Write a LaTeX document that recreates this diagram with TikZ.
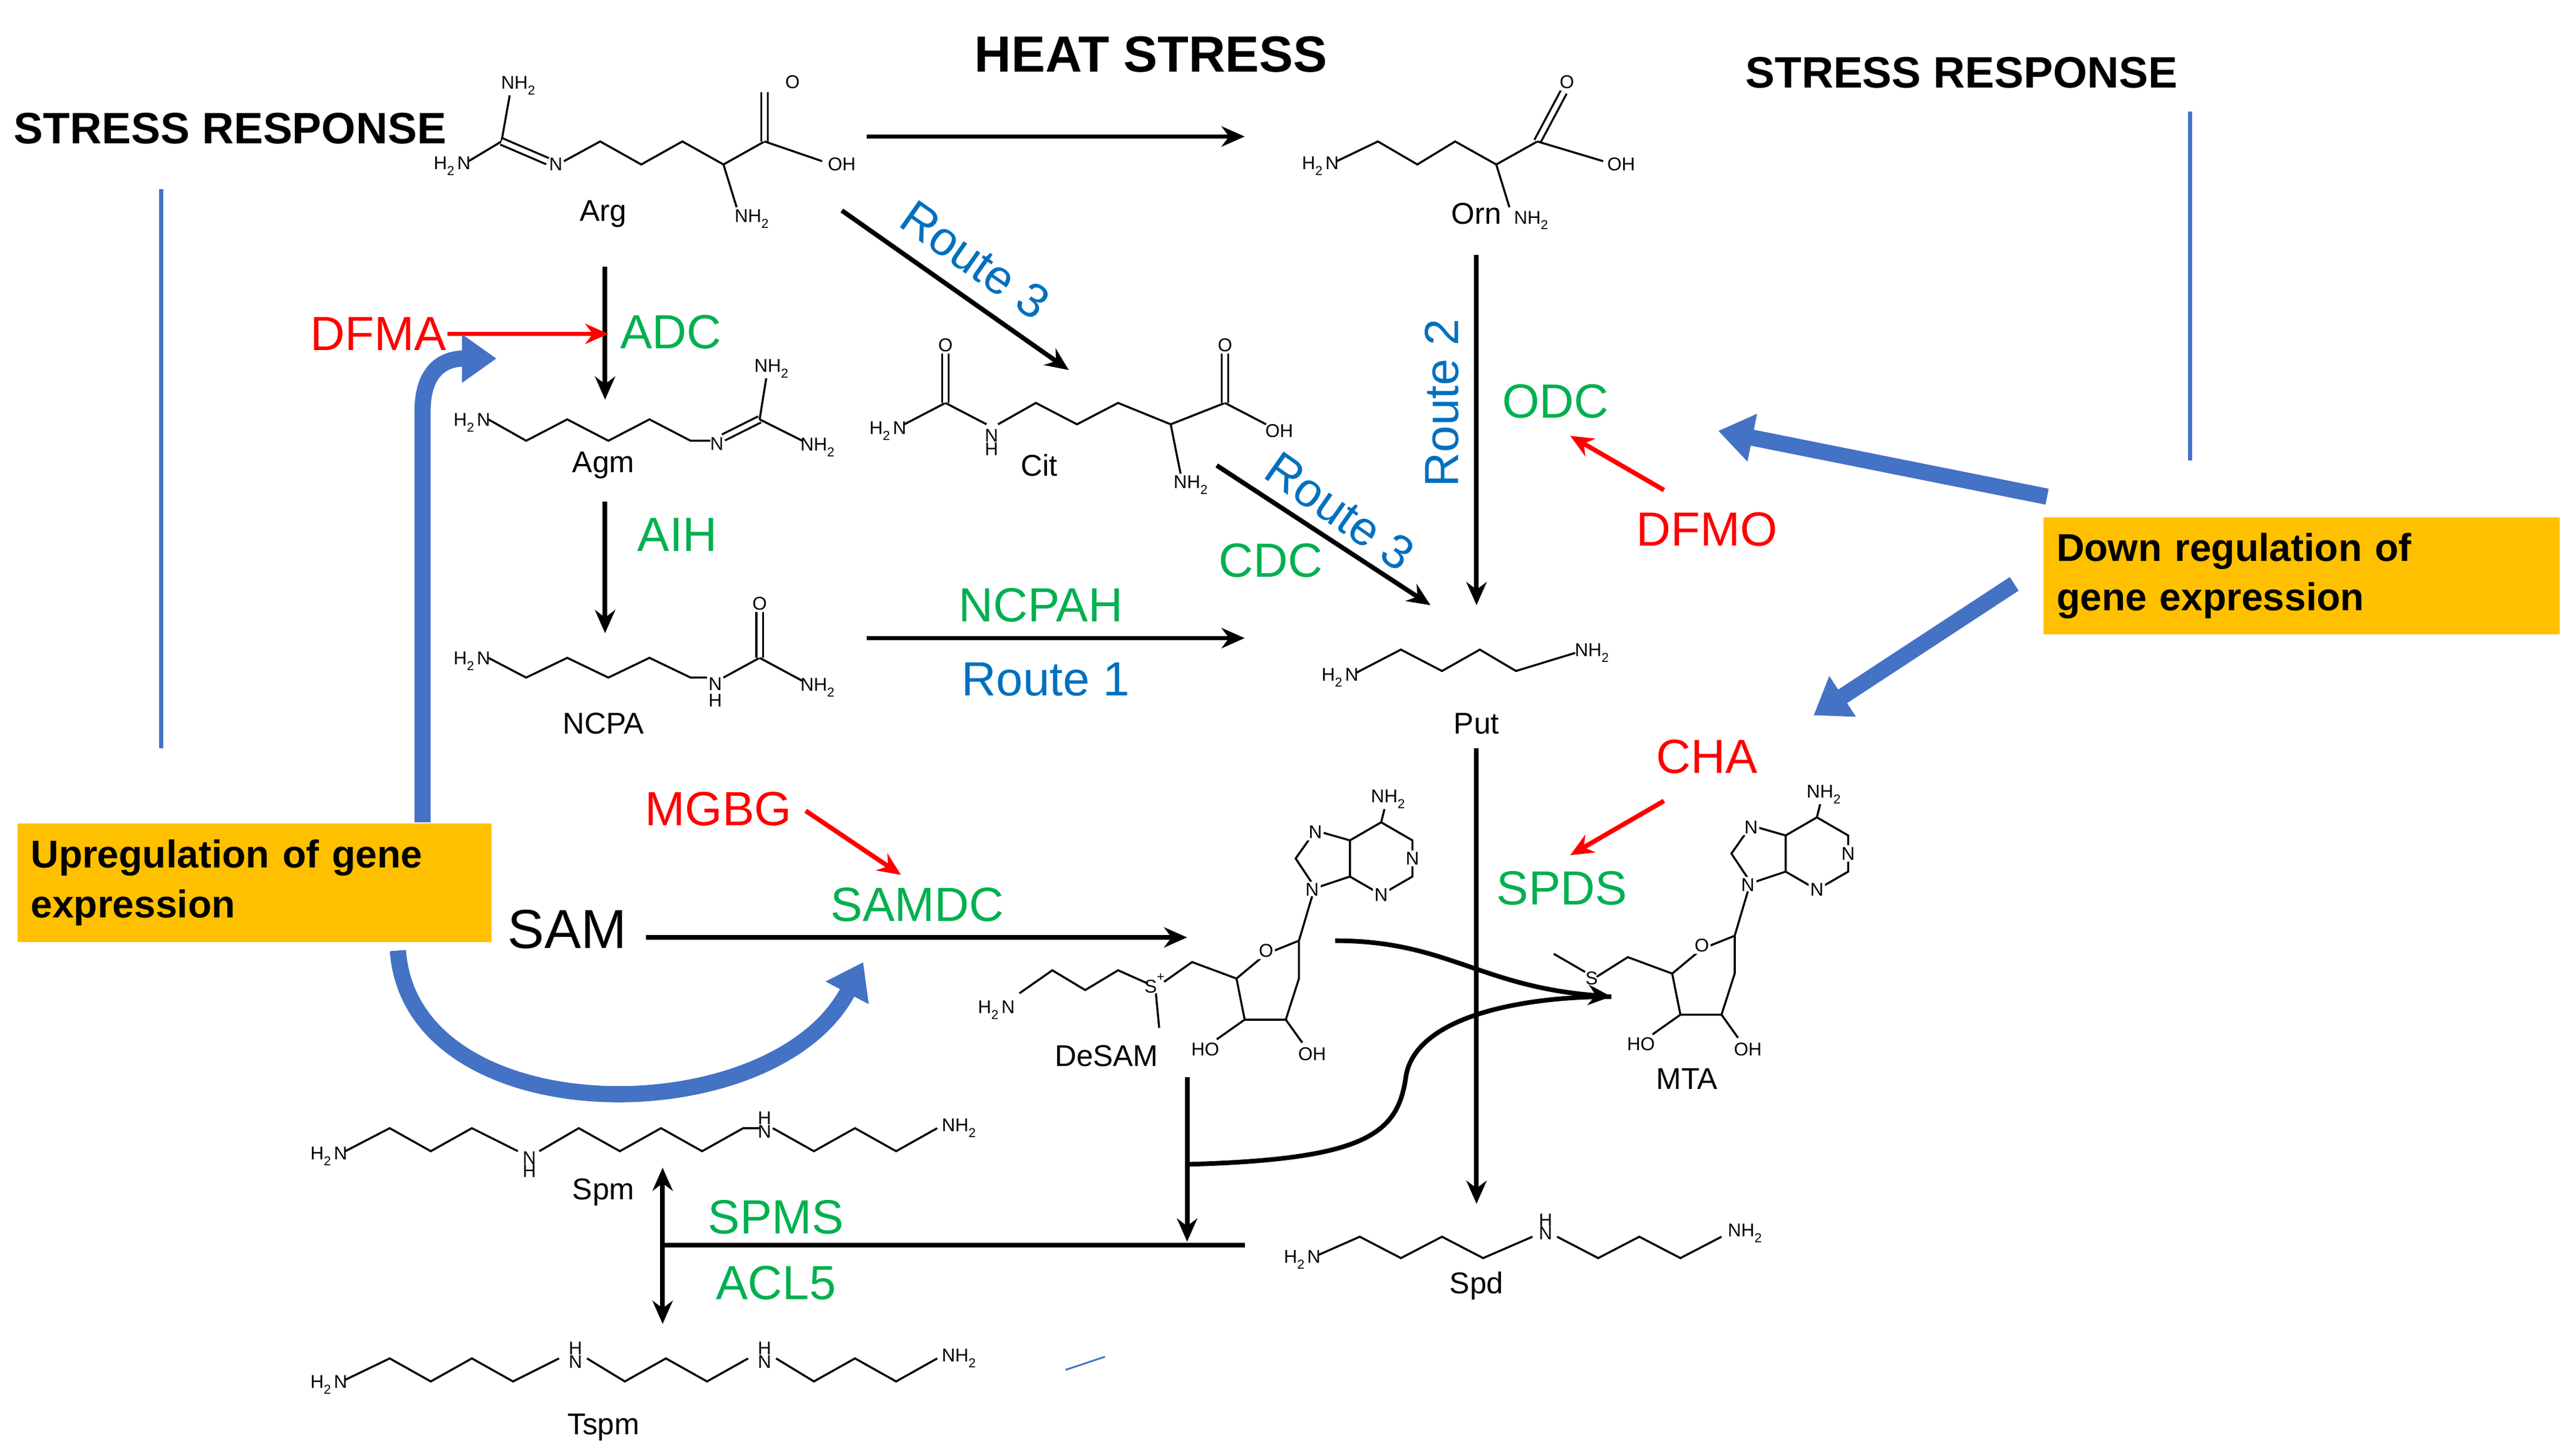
\documentclass[tikz,border=0pt]{standalone}
\usepackage{fontspec}
\setmainfont{Liberation Sans}
\usetikzlibrary{arrows.meta}
\definecolor{myred}{HTML}{FF0000}
\definecolor{mygreen}{HTML}{00B050}
\definecolor{myblue}{HTML}{0070C0}
\definecolor{blk}{HTML}{4472C4}
\definecolor{ybox}{HTML}{FFC000}
\newcommand\tw{\textsubscript{2}}
\tikzset{
 arr/.style={line width=0.8pt,-{Stealth[length=4pt,width=3.5pt]}},
 redarr/.style={myred,line width=0.8pt,-{Stealth[length=4pt,width=3.5pt]}},
 blockarr/.style={blk,line width=2.8pt,-{Triangle[width=8pt,length=6pt]}},
 bond/.style={line width=0.35pt},
 dbl/.style={line width=0.35pt,double,double distance=0.8pt},
 atm/.style={font=\fontsize{3.2}{4}\selectfont,inner sep=0.3pt},
 mol/.style={font=\fontsize{5.2}{6}\selectfont,inner sep=0pt},
 lab/.style={font=\fontsize{8.3}{10}\selectfont,inner sep=0pt},
 title/.style={font=\fontsize{7.6}{9}\selectfont\bfseries,inner sep=0pt},
 box/.style={fill=ybox,font=\fontsize{6.7}{8.6}\selectfont\bfseries,align=left,inner sep=0pt,anchor=north west,text width=#1},
}
\newcommand\adribo{%
 \draw[bond] (840,500)--(859,511)--(859,533)--(840,544)--(821,533)--(821,511)--cycle;
 \draw[bond] (821,511)--(800,505)--(788,522)--(800,540)--(821,533);
 \draw[bond] (840,500)--(842,492);
 \node[atm] at (845,486) {NH\tw};
 \node[atm,fill=white] at (859,522) {N};
 \node[atm,fill=white] at (840,544) {N};
 \node[atm,fill=white] at (800,506) {N};
 \node[atm,fill=white] at (798,541) {N};
 \draw[bond] (798,545)--(790,572)--(770,580)--(752,595)--(757,620)--(782,620)--(790,595)--(790,572);
 \node[atm,fill=white] at (770,578) {O};
 \draw[bond] (757,620)--(740,632); \node[atm] at (733,638) {HO};
 \draw[bond] (782,620)--(792,634); \node[atm] at (798,641) {OH};
}
\begin{document}
\begin{tikzpicture}[x=0.01cm,y=-0.01cm]
\useasboundingbox (0,0) rectangle (1560,885.3);
% titles
\node[title,font=\fontsize{8.8}{10}\selectfont\bfseries] (heat) at (700,33) {HEAT STRESS};
\node[title] (srl) at (140,78) {STRESS RESPONSE};
\node[title] (srr) at (1193,44) {STRESS RESPONSE};
\draw[blk,line width=0.7pt] (98,115)--(98,455);
\draw[blk,line width=0.7pt] (1332,68)--(1332,280);
\draw[blk,line width=0.3pt] (648,833)--(672,825);
% Arg
\node[atm] at (275,101) {H\tw N};
\draw[bond] (285,98)--(305,86); \draw[bond] (305,86)--(310,58); \node[atm] at (316,52) {NH\tw};
\draw[dbl] (305,86)--(333,98); \node[atm] at (338,100) {N};
\draw[bond] (343,98)--(365,86)--(390,100)--(415,86)--(440,100)--(465,86);
\draw[bond] (440,100)--(448,126); \node[atm] at (458,133) {NH\tw};
\draw[dbl] (465,86)--(465,56); \node[atm] at (482,50) {O};
\draw[bond] (465,86)--(500,98); \node[atm] at (512,100) {OH};
\node[mol] (arg) at (367,130) {Arg};
% Orn
\node[atm] at (803,101) {H\tw N};
\draw[bond] (813,98)--(838,86)--(862,100)--(885,86)--(910,100)--(935,86);
\draw[bond] (910,100)--(918,126); \node[atm] at (932,134) {NH\tw};
\draw[dbl] (935,86)--(951,56); \node[atm] at (953,50) {O};
\draw[bond] (935,86)--(975,98); \node[atm] at (986,100) {OH};
\node[mol] (orn) at (898,130) {Orn};
% Agm
\node[atm] at (287,257) {H\tw N};
\draw[bond] (297,255)--(320,268)--(345,255)--(370,268)--(395,255)--(420,268)--(432,268);
\node[atm] at (436,270) {N};
\draw[dbl] (440,266)--(462,255); \draw[bond] (462,255)--(466,230); \node[atm] at (470,224) {NH\tw};
\draw[bond] (462,255)--(488,268); \node[atm] at (498,272) {NH\tw};
\node[mol] (agm) at (367,283) {Agm};
% Cit
\node[atm] at (540,262) {H\tw N};
\draw[bond] (550,258)--(575,245); \draw[dbl] (575,245)--(575,215); \node[atm] at (575,210) {O};
\draw[bond] (575,245)--(600,258); \node[atm] at (603,265) {N}; \node[atm] at (603,273) {H};
\draw[bond] (607,258)--(630,245)--(655,258)--(680,245)--(712,258)--(745,245);
\draw[bond] (712,258)--(718,288); \node[atm] at (725,295) {NH\tw};
\draw[dbl] (745,245)--(745,215); \node[atm] at (745,210) {O};
\draw[bond] (745,245)--(770,258); \node[atm] at (778,262) {OH};
\node[mol] (cit) at (632,283) {Cit};
% NCPA
\node[atm] at (287,402) {H\tw N};
\draw[bond] (297,400)--(320,412)--(345,400)--(370,412)--(395,400)--(420,412)--(430,412);
\node[atm] at (435,416) {N}; \node[atm] at (435,426) {H};
\draw[bond] (440,412)--(462,400); \draw[dbl] (462,400)--(462,372); \node[atm] at (462,367) {O};
\draw[bond] (462,400)--(488,414); \node[atm] at (498,418) {NH\tw};
\node[mol] (ncpa) at (367,440) {NCPA};
% Put
\node[atm] at (815,412) {H\tw N};
\draw[bond] (825,409)--(852,395)--(877,408)--(900,395)--(922,408)--(958,397);
\node[atm] at (969,397) {NH\tw};
\node[mol] (put) at (898,440) {Put};
% DeSAM and MTA
\adribo
\draw[bond] (752,595)--(725,585)--(708,597);
\node[atm] at (703,598) {S\textsuperscript{+}};
\draw[bond] (703,604)--(705,625);
\draw[bond] (698,598)--(680,590)--(660,602)--(640,590)--(620,604);
\node[atm] at (606,614) {H\tw N};
\node[mol] (desam) at (673,642) {DeSAM};
\begin{scope}[shift={(265,-3)}]
\adribo
\draw[bond] (752,595)--(725,585)--(706,597);
\node[atm] at (703,598) {S};
\draw[bond] (699,594)--(680,583);
\end{scope}
\node[mol] (mta) at (1026,656) {MTA};
% Spm
\node[atm] at (200,703) {H\tw N};
\draw[bond] (210,700)--(237,686)--(262,700)--(287,686)--(315,700);
\node[atm] at (322,704) {N}; \node[atm] at (322,712) {H};
\draw[bond] (328,700)--(352,686)--(377,700)--(402,686)--(427,700)--(452,686)--(462,686);
\node[atm] at (465,680) {H}; \node[atm] at (465,688) {N};
\draw[bond] (470,686)--(495,700)--(520,686)--(545,700)--(570,686);
\node[atm] at (584,686) {NH\tw};
\node[mol] (spm) at (367,725) {Spm};
% Tspm
\node[atm] at (200,842) {H\tw N};
\draw[bond] (210,839)--(237,826)--(262,840)--(287,826)--(312,840)--(340,826);
\node[atm] at (350,820) {H}; \node[atm] at (350,828) {N};
\draw[bond] (357,826)--(380,840)--(405,826)--(430,840)--(455,826);
\node[atm] at (465,820) {H}; \node[atm] at (465,828) {N};
\draw[bond] (472,826)--(495,840)--(520,826)--(545,840)--(570,826);
\node[atm] at (584,826) {NH\tw};
\node[mol] (tspm) at (367,868) {Tspm};
% Spd
\node[atm] at (792,766) {H\tw N};
\draw[bond] (802,763)--(827,752)--(852,765)--(877,752)--(902,765)--(932,752);
\node[atm] at (940,742) {H}; \node[atm] at (940,750) {N};
\draw[bond] (947,752)--(972,765)--(997,752)--(1022,765)--(1047,752);
\node[atm] at (1062,750) {NH\tw};
\node[mol] (spd) at (898,782) {Spd};
% main arrows
\coordinate (a1) at (527,83); \coordinate (a2) at (757,83);
\draw[arr] (a1)--(a2);
\coordinate (r3a) at (512,128); \coordinate (r3b) at (650,225);
\draw[arr] (r3a)--(r3b);
\node[lab,myblue,rotate=-35] (rt3a) at (593,158) {Route 3};
\coordinate (b1) at (368,162); \coordinate (b2) at (368,243);
\draw[arr] (b1)--(b2);
\node[lab,myred] (dfma) at (230,203) {DFMA};
\coordinate (dfe) at (370,203);
\draw[redarr] (dfma.east)--(dfe);
\node[lab,mygreen] (adc) at (408,202) {ADC};
\coordinate (c1) at (368,305); \coordinate (c2) at (368,385);
\draw[arr] (c1)--(c2);
\node[lab,mygreen] (aih) at (412,325) {AIH};
\coordinate (d1) at (740,283); \coordinate (d2) at (870,368);
\draw[arr] (d1)--(d2);
\node[lab,myblue,rotate=-35] (rt3b) at (815,311) {Route 3};
\node[lab,mygreen] (cdc) at (773,341) {CDC};
\coordinate (e1) at (527,388); \coordinate (e2) at (757,388);
\draw[arr] (e1)--(e2);
\node[lab,mygreen] (ncpah) at (633,368) {NCPAH};
\node[lab,myblue] (rt1) at (636,413) {Route 1};
\coordinate (f1) at (898,155); \coordinate (f2) at (898,368);
\draw[arr] (f1)--(f2);
\node[lab,myblue,rotate=90] (rt2) at (877,245) {Route 2};
\node[lab,mygreen] (odc) at (946,244) {ODC};
\node[lab,myred] (dfmo) at (1038,322) {DFMO};
\coordinate (g1) at (1012,298); \coordinate (g2) at (955,265);
\draw[redarr] (g1)--(g2);
\coordinate (h1) at (898,455); \coordinate (h2) at (898,732);
\draw[arr] (h1)--(h2);
\node[lab,myred] (cha) at (1038,460) {CHA};
\coordinate (i1) at (1012,487); \coordinate (i2) at (955,520);
\draw[redarr] (i1)--(i2);
\node[lab,mygreen] (spds) at (950,540) {SPDS};
\node[lab,myred] (mgbg) at (437,492) {MGBG};
\coordinate (j1) at (490,493); \coordinate (j2) at (548,532);
\draw[redarr] (j1)--(j2);
\node[lab,mygreen] (samdc) at (558,550) {SAMDC};
\node[font=\fontsize{9.5}{11}\selectfont,inner sep=0pt] (sam) at (345,565) {SAM};
\coordinate (k1) at (393,570); \coordinate (k2) at (722,570);
\draw[arr] (k1)--(k2);
\coordinate (m1) at (812,572); \coordinate (mt) at (980,606);
\draw[arr] (m1) .. controls (880,572) and (900,600) .. (mt);
\coordinate (n1) at (722,708);
\draw[line width=0.8pt] (n1) .. controls (830,705) and (850,690) .. (855,655) .. controls (860,620) and (920,606) .. (mt);
\coordinate (o1) at (722,655); \coordinate (o2) at (722,755);
\draw[arr] (o1)--(o2);
\coordinate (p1) at (403,757); \coordinate (p2) at (757,757);
\draw[line width=0.8pt] (p1)--(p2);
\coordinate (q1) at (403,710); \coordinate (q2) at (403,805);
\draw[line width=0.8pt,{Stealth[length=4pt,width=3.5pt]}-{Stealth[length=4pt,width=3.5pt]}] (q1)--(q2);
\node[lab,mygreen] (spms) at (472,740) {SPMS};
\node[lab,mygreen] (acl) at (472,780) {ACL5};
% boxes
\node[box=2.88cm,minimum height=0.72cm] (up) at (10,500) {\hspace{0.08cm}Upregulation of gene\\\hspace{0.08cm}expression};
\node[box=3.14cm,minimum height=0.71cm] (down) at (1242,314) {\hspace{0.08cm}Down regulation of\\\hspace{0.08cm}gene expression};
% blue block arrows
\coordinate (u1) at (257,500); \coordinate (u2) at (302,218);
\draw[blockarr] (u1)--(257,250) .. controls (257,225) and (270,218) .. (u2);
\coordinate (w1) at (242,578); \coordinate (w2) at (525,585);
\draw[blockarr] (w1) .. controls (250,690) and (470,690) .. (w2);
\coordinate (x1) at (1245,302); \coordinate (x2) at (1045,262);
\draw[blockarr] (x1)--(x2);
\coordinate (y1) at (1225,355); \coordinate (y2) at (1103,435);
\draw[blockarr] (y1)--(y2);
\end{tikzpicture}
\end{document}
